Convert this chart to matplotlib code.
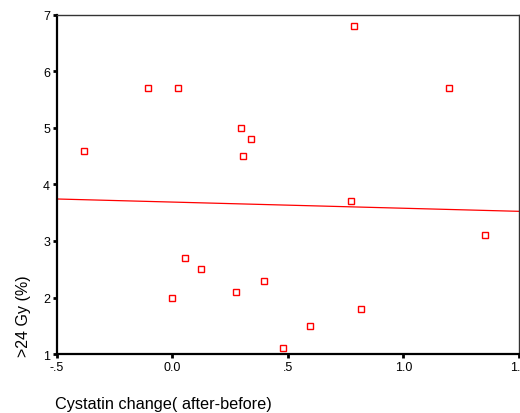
import numpy as np
import matplotlib
matplotlib.use("Agg")
import matplotlib.pyplot as plt

plt.rcParams['font.family'] = ['Liberation Sans', 'DejaVu Sans']

cystatin_change = [-0.383, -0.106, 0.024, 0.297, 0.340, 0.305, 0.786, 1.197, 0.773,
                   1.353, 0.054, 0.123, 0.000, 0.275, 0.396, 0.595, 0.816, 0.478]
gy24_pct = [4.6, 5.7, 5.7, 5.0, 4.8, 4.5, 6.8, 5.7, 3.7,
            3.1, 2.7, 2.5, 2.0, 2.1, 2.3, 1.5, 1.8, 1.1]
x_ticks = [-0.5, 0.0, 0.5, 1.0, 1.5]
x_tick_labels = ['-.5', '0.0', '.5', '1.0', '1.5']
y_ticks = [1, 2, 3, 4, 5, 6, 7]

fig = plt.figure(figsize=(5.2, 4.14), dpi=100)
ax = fig.add_axes([0.1096, 0.1425, 0.8884, 0.8189])

ax.plot(cystatin_change, gy24_pct, linestyle='none', marker='s', markersize=4.5,
        markerfacecolor='white', markeredgecolor='#ff0000', markeredgewidth=1.0)

coef = np.polyfit(cystatin_change, gy24_pct, 1)
xl = np.array([-0.5, 1.5])
ax.plot(xl, np.polyval(coef, xl), color='#ff0000', linewidth=0.9)

ax.set_xlim(-0.5, 1.5)
ax.set_ylim(1, 7)
ax.set_xticks(x_ticks)
ax.set_xticklabels(x_tick_labels)
ax.set_yticks(y_ticks)
ax.tick_params(direction='out', length=3, width=2, labelsize=9, pad=2, colors='black')
for s in ['left', 'bottom']:
    ax.spines[s].set_linewidth(1.6)
    ax.spines[s].set_color('black')
for s in ['top', 'right']:
    ax.spines[s].set_linewidth(1.0)
    ax.spines[s].set_color('#333333')

fig.text(0.106, 0.022, 'Cystatin change( after-before)', fontsize=11.7, ha='left', va='center')
fig.text(0.045, 0.237, '>24 Gy (%)', fontsize=11.5, rotation=90, ha='center', va='center')

fig.savefig('out.png', dpi=100)
